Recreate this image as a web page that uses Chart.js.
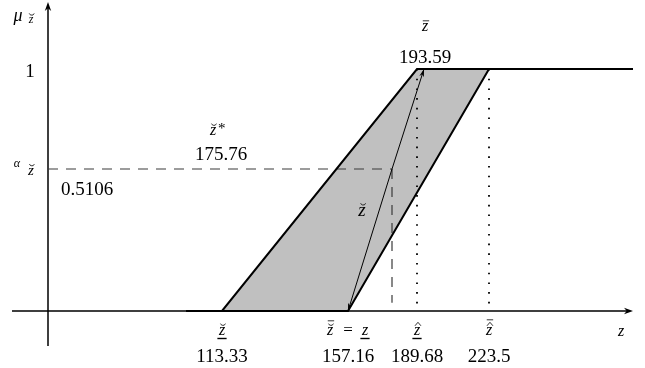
<!DOCTYPE html>
<html>
<head>
<meta charset="utf-8">
<script src="https://cdn.jsdelivr.net/npm/chart.js@4.4.0/dist/chart.umd.min.js"></script>
<style>
  body { margin: 0; background: #fff; }
  canvas { display: block; }
</style>
</head>
<body>
<canvas id="myChart" width="645" height="368"></canvas>
<script>
// key abscissae
var zLow = 113.33;   // underlined z-breve
var zMid = 157.16;   // z-bar-breve = underlined z
var zStar = 175.76;  // z-breve*
var zHat = 189.68;   // underlined z-hat
var zBar = 193.59;   // z-bar
var zTop = 223.5;    // z-bar-hat
var alphaCut = 0.5106;
var zStart = 90, zEnd = 290;

// the two membership functions
var lowerX = [zStart, zLow, zHat, zEnd];
var lowerY = [0, 0, 1, 1];
var upperX = [zStart, zMid, zTop, zEnd];
var upperY = [0, 0, 1, 1];
// arrow between them through the alpha cut point
var arrowX = [zMid, zStar, zBar];
var arrowY = [0, alphaCut, 1];

var tickValues = [zLow, zMid, zHat, zTop];
var tickLabels = ["113.33", "157.16", "189.68", "223.5"];

// the drawing is schematic: the axes are not to scale, so each axis
// maps its values piecewise onto layout units
var axisLayout = {
  x: { values: [0, 113.33, 157.16, 175.76, 189.68, 193.59, 223.5], units: [48, 222, 348, 392, 417, 424, 489] },
  y: { values: [0, 0.5106, 1], units: [35, 177, 277] }
};

class SchematicScale extends Chart.LinearScale {
  toUnits(v) {
    var k = axisLayout[this.id], n = k.values.length, i = 1;
    while (i < n - 1 && v > k.values[i]) i++;
    var v0 = k.values[i - 1], v1 = k.values[i];
    return k.units[i - 1] + (v - v0) * (k.units[i] - k.units[i - 1]) / (v1 - v0);
  }
  getPixelForValue(v) {
    if (v === null || v === undefined) return NaN;
    return super.getPixelForValue(this.toUnits(v));
  }
}
SchematicScale.id = "schematic";
SchematicScale.defaults = {};
Chart.register(SchematicScale);

function pts(xs, ys) {
  return xs.map(function (x, i) { return { x: x, y: ys[i] }; });
}

function head(ctx, tx, ty, fx, fy, len, half) {
  var a = Math.atan2(ty - fy, tx - fx);
  ctx.beginPath();
  ctx.moveTo(tx, ty);
  ctx.lineTo(tx - len * Math.cos(a) + half * Math.sin(a), ty - len * Math.sin(a) - half * Math.cos(a));
  ctx.lineTo(tx - len * 0.7 * Math.cos(a), ty - len * 0.7 * Math.sin(a));
  ctx.lineTo(tx - len * Math.cos(a) - half * Math.sin(a), ty - len * Math.sin(a) + half * Math.cos(a));
  ctx.closePath();
  ctx.fill();
}

// italic z with accents stacked above it
function zSym(ctx, x, y, size, marks, under) {
  ctx.font = "italic " + size + "px 'Liberation Serif'";
  ctx.textAlign = "center";
  ctx.textBaseline = "alphabetic";
  ctx.fillText("z", x, y);
  var w = ctx.measureText("z").width;
  var h = y - size * 0.45 - 2;
  var cx = x + size * 0.06;
  ctx.lineWidth = 0.8;
  marks.forEach(function (m) {
    ctx.beginPath();
    if (m === "breve") {
      ctx.arc(cx, h - 3, 2.6, 0.1 * Math.PI, 0.9 * Math.PI);
      h -= 4;
    } else if (m === "bar") {
      ctx.moveTo(cx - 3.2, h - 1); ctx.lineTo(cx + 3.2, h - 1);
      h -= 3;
    } else if (m === "hat") {
      ctx.moveTo(cx - 3, h); ctx.lineTo(cx, h - 3.5); ctx.lineTo(cx + 3, h);
      h -= 5;
    }
    ctx.stroke();
  });
  if (under) {
    ctx.lineWidth = 1.4;
    ctx.beginPath();
    ctx.moveTo(x - w / 2 - 1.5, y + 3.5); ctx.lineTo(x + w / 2 + 1.5, y + 3.5);
    ctx.stroke();
  }
}

var axesPlugin = {
  id: "axes",
  beforeDatasetsDraw: function (chart) {
    var ctx = chart.ctx, a = chart.chartArea;
    var x0 = chart.scales.x.getPixelForValue(0), y0 = chart.scales.y.getPixelForValue(0);
    ctx.save();
    ctx.strokeStyle = "#000"; ctx.fillStyle = "#000"; ctx.lineWidth = 1.5;
    ctx.beginPath();
    ctx.moveTo(a.left, y0); ctx.lineTo(a.right - 4, y0);
    ctx.moveTo(x0, a.bottom); ctx.lineTo(x0, a.top + 4);
    ctx.stroke();
    head(ctx, a.right, y0, a.left, y0, 9, 3.2);
    head(ctx, x0, a.top, x0, a.bottom, 9, 3.2);
    ctx.restore();
  },
  afterDraw: function (chart) {
    var ctx = chart.ctx, xs = chart.scales.x, ys = chart.scales.y;
    var ax = arrowX.map(function (v) { return xs.getPixelForValue(v); });
    var ay = arrowY.map(function (v) { return ys.getPixelForValue(v); });
    ctx.save();
    ctx.fillStyle = "#000"; ctx.strokeStyle = "#000";
    head(ctx, ax[2], ay[2], ax[0], ay[0], 8, 2.4);
    head(ctx, ax[0], ay[0], ax[2], ay[2], 8, 2.4);

    var serif = "19px 'Liberation Serif'";
    ctx.textBaseline = "alphabetic";
    // bottom labels
    var marks = [["breve"], ["breve", "bar"], ["hat"], ["hat", "bar"]];
    tickValues.forEach(function (v, i) {
      var px = xs.getPixelForValue(v);
      ctx.font = serif; ctx.textAlign = "center";
      ctx.fillText(tickLabels[i], px, 362);
      if (i === 1) {
        zSym(ctx, px - 18, 335, 16, marks[i], false);
        ctx.font = "17px 'Liberation Serif'"; ctx.textAlign = "center";
        ctx.fillText("=", px, 335);
        zSym(ctx, px + 17, 335, 16, [], true);
      } else {
        zSym(ctx, px, 335, 16, marks[i], i !== 3);
      }
    });
    zSym(ctx, 621, 336, 16, [], false);

    // y side
    ctx.font = serif; ctx.textAlign = "center";
    ctx.fillText("1", 30, ys.getPixelForValue(1) + 8);
    ctx.font = "italic 18px 'Liberation Serif'";
    ctx.fillText("\u03bc", 18, 21);
    zSym(ctx, 31, 23, 12, ["breve"], false);
    var ya = ys.getPixelForValue(alphaCut);
    ctx.font = "italic 12px 'Liberation Serif'"; ctx.textAlign = "center";
    ctx.fillText("\u03b1", 17, ya - 2);
    zSym(ctx, 31, ya + 6, 15, ["breve"], false);
    ctx.font = serif; ctx.textAlign = "left";
    ctx.fillText("0.5106", 61, ya + 26);

    // alpha cut point
    var xsx = xs.getPixelForValue(zStar);
    zSym(ctx, 213, 135, 16, ["breve"], false);
    ctx.font = "15px 'Liberation Serif'"; ctx.textAlign = "left";
    ctx.fillText("*", 218, 133);
    ctx.font = serif; ctx.textAlign = "center";
    ctx.fillText("175.76", 221, 160);

    // top of arrow
    var xb = xs.getPixelForValue(zBar), yb = ys.getPixelForValue(1);
    zSym(ctx, xb + 1, 31, 16, ["bar"], false);
    ctx.font = serif; ctx.textAlign = "center";
    ctx.fillText("193.59", xb + 1, yb - 6);

    // arrow label
    zSym(ctx, 362, 216, 19, ["breve"], false);
    ctx.restore();
  }
};

var ctx = document.getElementById("myChart");
var myChart = new Chart(ctx, {
  type: "scatter",
  data: {
    datasets: [
      { data: pts(lowerX, lowerY), showLine: true, borderColor: "#000", borderWidth: 2,
        fill: "+1", backgroundColor: "#c0c0c0", pointRadius: 0 },
      { data: pts(upperX, upperY), showLine: true, borderColor: "#000", borderWidth: 2,
        fill: false, pointRadius: 0 },
      { data: pts(arrowX, arrowY), showLine: true, borderColor: "#000", borderWidth: 1,
        fill: false, pointRadius: 0 },
      { data: pts([0, zStar], [alphaCut, alphaCut]), showLine: true, borderColor: "#3a3a3a",
        borderWidth: 1.2, borderDash: [10, 8], fill: false, pointRadius: 0 },
      { data: pts([zStar, zStar], [alphaCut, 0.03]), showLine: true, borderColor: "#3a3a3a",
        borderWidth: 1.2, borderDash: [10, 8], fill: false, pointRadius: 0 },
      { data: pts([zHat, zHat], [1, 0]), showLine: true, borderColor: "#000",
        borderWidth: 1.8, borderDash: [1.6, 8.1], fill: false, pointRadius: 0 },
      { data: pts([zTop, zTop], [1, 0]), showLine: true, borderColor: "#000",
        borderWidth: 1.8, borderDash: [1.6, 8.1], fill: false, pointRadius: 0 }
    ]
  },
  options: {
    responsive: false,
    animation: false,
    layout: { padding: { left: 12, right: 12, top: 2, bottom: 22 } },
    scales: {
      x: { type: "schematic", min: 12, max: 633, display: false },
      y: { type: "schematic", min: 0, max: 344, display: false }
    },
    plugins: {
      legend: { display: false },
      tooltip: { enabled: false },
      filler: { drawTime: "beforeDatasetsDraw" }
    }
  },
  plugins: [axesPlugin]
});
</script>
</body>
</html>
